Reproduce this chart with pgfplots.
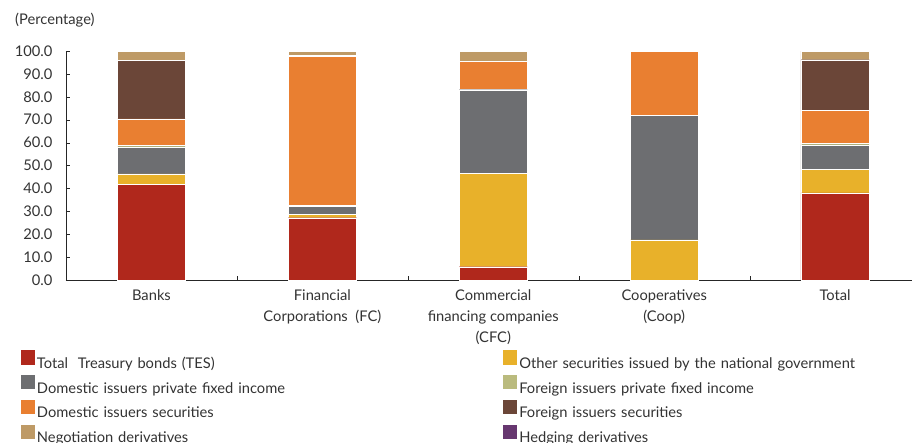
\documentclass[border=0pt]{standalone}
\usepackage{fontspec}
\setmainfont{Lato}
\usepackage{pgfplots}
\usepackage{pgfplotstable}
\pgfplotsset{compat=1.18}
\usetikzlibrary{calc}

\definecolor{cRed}{HTML}{B0281C}
\definecolor{cYellow}{HTML}{E8B12A}
\definecolor{cGrey}{HTML}{6D6E71}
\definecolor{cLGreen}{HTML}{BABB7E}
\definecolor{cOrange}{HTML}{E97F31}
\definecolor{cBrown}{HTML}{6B4638}
\definecolor{cTan}{HTML}{BE9A66}
\definecolor{cPurple}{HTML}{673770}
\definecolor{cText}{HTML}{333333}

% shares by portfolio (percent), one row per group of entities
\pgfplotstableread{
x tes gov dpfi fpfi dsec fsec neg hedge
0 41.9 4.4 11.8 0.7 11.6 25.5 4.1 0
1 27.2 1.6 3.3 0.6 65.1 0.4 1.8 0
2 5.8 40.8 36.5 0.3 12.1 0.0 4.5 0
3 0.0 17.5 54.3 0.0 28.2 0.0 0.0 0
4 38.1 10.1 10.8 0.6 14.6 22.0 3.8 0
}\datatable

\begin{document}
\begin{tikzpicture}
\begin{axis}[
    name=ax,
    width=846pt, height=229pt,
    scale only axis,
    xmin=-0.5, xmax=4.45,
    ymin=0, ymax=100,
    ybar stacked,
    bar width=0.4,
    axis lines=left,
    axis line style={-, draw=black!85},
    tick align=inside,
    font=\fontsize{14.7}{21}\selectfont,
    ytick={0,10,...,100},
    /pgf/number format/assume math mode=true,
    yticklabel style={/pgf/number format/fixed,
        /pgf/number format/fixed zerofill,
        /pgf/number format/precision=1,
        text=cText, xshift=-10pt},
    ytick style={draw=black!85},
    major tick length=4pt,
    xtick={0,...,4},
    xticklabels={Banks, {Financial\\Corporations~~(FC)},
        {Commercial\\financing companies\\(CFC)},
        {Cooperatives\\(Coop)}, Total},
    xticklabel style={align=center, text=cText, yshift=-6pt},
    xtick style={draw=none},
    extra x ticks={0.5,1.5,2.5,3.5},
    extra x tick labels={},
    extra x tick style={xtick style={draw=black!85}},
    legend columns=2,
    legend cell align=left,
    legend style={
        at={(axis description cs:-0.0544,-0.301)},
        anchor=north west,
        draw=none, fill=none, inner sep=0pt,
        font=\fontsize{14.7}{20}\selectfont,
        text=cText,
        nodes={text width=440pt, align=left, text height=11pt, text depth=3pt,
            inner ysep=2.7pt, inner xsep=1.5pt},
        /tikz/every even column/.append style={column sep=24pt},
    },
    legend image code/.code={\fill[#1] (0pt,-0.5pt) rectangle (15pt,15pt);},
]
\addplot[fill=cRed, draw=white, line width=0.3pt] table[x=x, y=tes]{\datatable};
\addlegendentry{Total~~Treasury bonds (TES)}
\addplot[fill=cYellow, draw=white, line width=0.3pt] table[x=x, y=gov]{\datatable};
\addlegendentry{Other securities issued by the national government}
\addplot[fill=cGrey, draw=white, line width=0.3pt] table[x=x, y=dpfi]{\datatable};
\addlegendentry{Domestic issuers private fixed income}
\addplot[fill=cLGreen, draw=white, line width=0.3pt] table[x=x, y=fpfi]{\datatable};
\addlegendentry{Foreign issuers private fixed income}
\addplot[fill=cOrange, draw=white, line width=0.3pt] table[x=x, y=dsec]{\datatable};
\addlegendentry{Domestic issuers securities}
\addplot[fill=cBrown, draw=white, line width=0.3pt] table[x=x, y=fsec]{\datatable};
\addlegendentry{Foreign issuers securities}
\addplot[fill=cTan, draw=white, line width=0.3pt] table[x=x, y=neg]{\datatable};
\addlegendentry{Negotiation derivatives}
\addplot[fill=cPurple, draw=white, line width=0.3pt] table[x=x, y=hedge]{\datatable};
\addlegendentry{Hedging derivatives}
\end{axis}
\node[anchor=west, text=cText, font=\fontsize{14.7}{20}\selectfont, inner sep=0pt]
    at ($(ax.north west)+(-51pt,31pt)$) {(Percentage)};
\pgfresetboundingbox
\path ($(ax.south west)+(-66pt,-162pt)$) rectangle ($(ax.north east)+(0pt,51pt)$);
\end{tikzpicture}
\end{document}
